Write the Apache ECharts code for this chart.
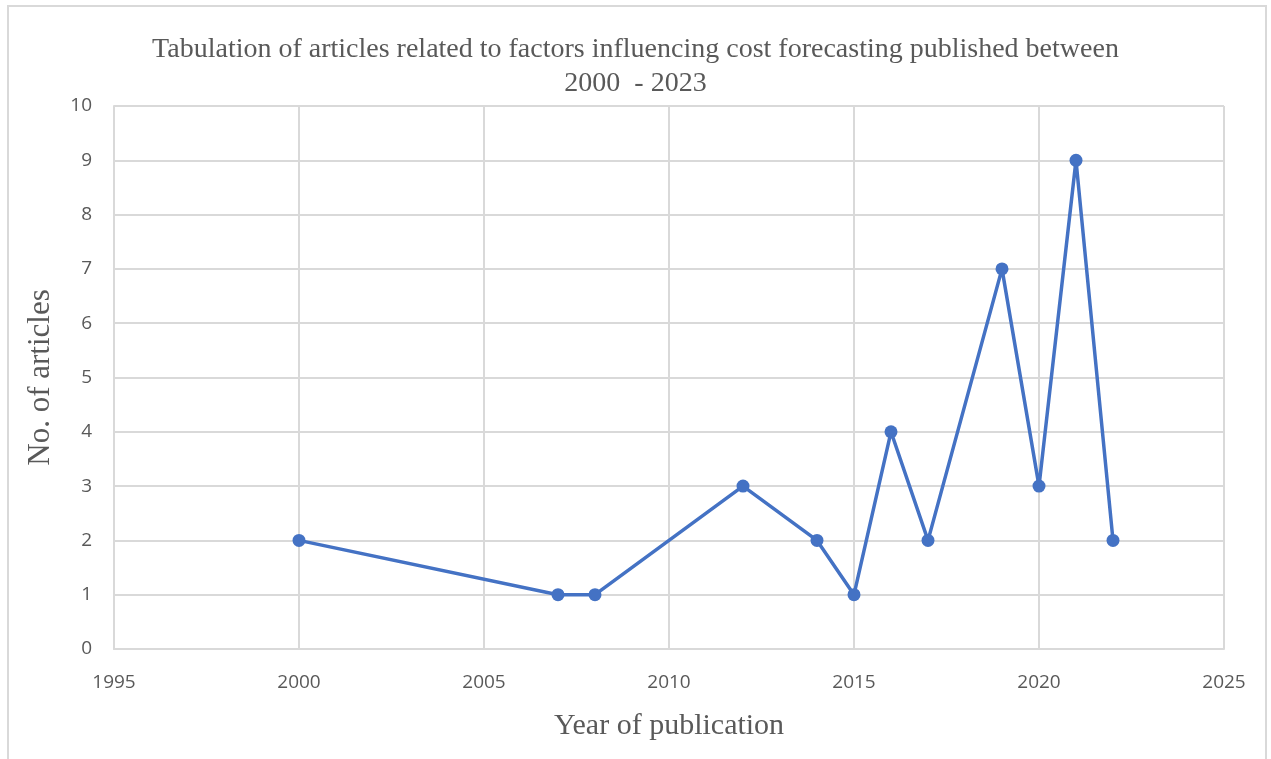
<!DOCTYPE html>
<html>
<head>
<meta charset="utf-8">
<script src="https://cdn.jsdelivr.net/npm/echarts@6/dist/echarts.min.js"></script>
<style>
  html, body { margin: 0; padding: 0; background: #fff; }
  #chart { width: 1271px; height: 759px; }
</style>
</head>
<body>
<div id="chart"></div>
<script>
const years = [2000, 2007, 2008, 2012, 2014, 2015, 2016, 2017, 2019, 2020, 2021, 2022];
const articles = [2, 1, 1, 3, 2, 1, 4, 2, 7, 3, 9, 2];
const titleLines = ["Tabulation of articles related to factors influencing cost forecasting published between", "2000  - 2023"];

const chart = echarts.init(document.getElementById("chart"));
const gridColor = "#d9d9d9";
const labelColor = "#595959";

const option = {
  animation: false,
  graphic: [
    {
      type: "rect",
      shape: { x: 8, y: 6, width: 1258, height: 760 },
      style: { fill: "none", stroke: "#d9d9d9", lineWidth: 2 },
      silent: true
    }
  ],
  title: {
    text: titleLines.join("\n"),
    left: "center",
    top: 28,
    textStyle: {
      fontFamily: "Liberation Serif",
      fontWeight: "normal",
      fontSize: 28,
      color: labelColor,
      lineHeight: 34
    }
  },
  grid: {
    left: 114,
    right: 47,
    top: 106,
    bottom: 110
  },
  xAxis: {
    type: "value",
    min: 1995,
    max: 2025,
    interval: 5,
    name: "Year of publication",
    nameLocation: "middle",
    nameGap: 62,
    nameTextStyle: {
      fontFamily: "Liberation Serif",
      fontSize: 30,
      color: labelColor
    },
    axisLine: { show: true, lineStyle: { color: gridColor, width: 2 } },
    axisTick: { show: false },
    splitLine: { show: true, lineStyle: { color: gridColor, width: 2 } },
    axisLabel: {
      fontFamily: "Open Sans",
      fontSize: 19,
      color: labelColor,
      margin: 24,
      formatter: (v) => String(v)
    }
  },
  yAxis: {
    type: "value",
    min: 0,
    max: 10,
    interval: 1,
    name: "No. of articles",
    nameLocation: "middle",
    nameGap: 58,
    nameRotate: 90,
    nameTextStyle: {
      fontFamily: "Liberation Serif",
      fontSize: 31,
      color: labelColor
    },
    axisLine: { show: true, lineStyle: { color: gridColor, width: 2 } },
    axisTick: { show: false },
    splitLine: { show: true, lineStyle: { color: gridColor, width: 2 } },
    axisLabel: {
      fontFamily: "Open Sans",
      fontSize: 19,
      color: labelColor,
      margin: 22
    }
  },
  series: [
    {
      type: "line",
      data: years.map((y, i) => [y, articles[i]]),
      symbol: "circle",
      symbolSize: 13,
      lineStyle: { color: "#4472C4", width: 3.5 },
      itemStyle: { color: "#4472C4" }
    }
  ]
};

chart.setOption(option);
</script>
</body>
</html>
